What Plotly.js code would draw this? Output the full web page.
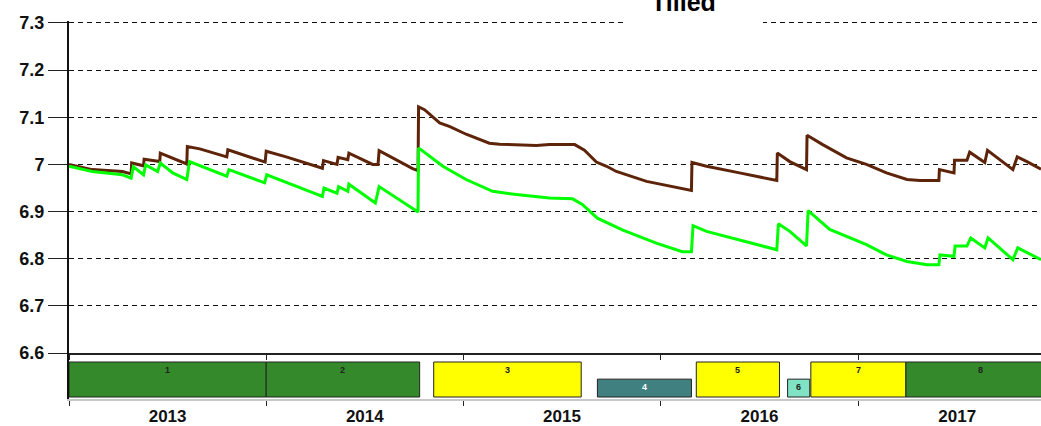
<!DOCTYPE html>
<html>
<head>
<meta charset="utf-8">
<script src="https://cdn.plot.ly/plotly-3.0.1.min.js"></script>
<style>html,body{margin:0;padding:0;background:#fff;}#chart{width:1041px;height:426px;}</style>
</head>
<body>
<div id="chart"></div>
<script>
// ---- Data ----
const brownDates = ['2013-01-01','2013-02-13','2013-04-10','2013-04-26','2013-04-27','2013-05-19','2013-05-20','2013-06-18','2013-06-19','2013-08-07','2013-08-08','2013-08-31','2013-10-20','2013-10-22','2013-12-30','2014-01-01','2014-02-07','2014-03-22','2014-04-15','2014-04-17','2014-05-12','2014-05-14','2014-06-01','2014-06-03','2014-07-17','2014-07-27','2014-07-29','2014-09-29','2014-10-09','2014-10-10','2014-10-21','2014-11-18','2014-12-07','2015-01-06','2015-02-18','2015-03-09','2015-05-16','2015-06-09','2015-07-26','2015-08-13','2015-09-04','2015-09-23','2015-10-11','2015-12-06','2016-02-18','2016-02-27','2016-02-28','2016-03-26','2016-05-26','2016-08-03','2016-08-04','2016-08-27','2016-09-27','2016-09-28','2016-10-27','2016-12-10','2017-01-16','2017-02-22','2017-04-01','2017-04-25','2017-05-30','2017-05-31','2017-06-27','2017-06-28','2017-07-21','2017-07-26','2017-08-23','2017-08-28','2017-10-14','2017-10-22','2017-11-09','2017-12-05'];
const brownValues = [7.000,6.989,6.985,6.980,7.003,6.997,7.011,7.006,7.024,7.001,7.038,7.033,7.016,7.031,7.005,7.028,7.016,7.000,6.992,7.008,7.000,7.015,7.010,7.024,7.000,7.000,7.029,6.991,6.987,7.122,7.116,7.088,7.080,7.064,7.045,7.043,7.040,7.042,7.042,7.030,7.005,6.996,6.985,6.964,6.946,6.945,7.004,6.996,6.982,6.966,7.024,7.006,6.989,7.062,7.042,7.014,7.000,6.982,6.968,6.966,6.966,6.989,6.982,7.009,7.009,7.026,7.004,7.030,6.989,7.016,7.006,6.990];

const greenDates = ['2013-01-01','2013-02-13','2013-04-10','2013-04-26','2013-04-30','2013-05-19','2013-05-23','2013-06-14','2013-06-19','2013-07-12','2013-08-07','2013-08-12','2013-10-20','2013-10-24','2013-12-29','2014-01-02','2014-03-22','2014-04-15','2014-04-18','2014-05-12','2014-05-15','2014-06-01','2014-06-03','2014-07-22','2014-07-29','2014-10-06','2014-10-09','2014-10-10','2014-11-24','2015-01-06','2015-02-24','2015-04-09','2015-06-09','2015-07-22','2015-08-09','2015-09-06','2015-10-22','2015-12-24','2016-02-10','2016-02-27','2016-03-01','2016-03-26','2016-05-26','2016-08-03','2016-08-06','2016-08-27','2016-09-27','2016-09-30','2016-11-09','2016-12-10','2017-01-16','2017-02-22','2017-04-01','2017-05-08','2017-05-30','2017-06-01','2017-06-27','2017-06-29','2017-07-21','2017-07-28','2017-08-23','2017-08-29','2017-10-14','2017-10-23','2017-12-05'];
const greenValues = [6.996,6.985,6.978,6.971,6.995,6.978,6.999,6.985,7.003,6.982,6.968,7.006,6.975,6.989,6.961,6.978,6.943,6.932,6.950,6.939,6.953,6.943,6.958,6.918,6.953,6.900,6.899,7.035,6.996,6.968,6.943,6.936,6.929,6.927,6.915,6.886,6.861,6.833,6.815,6.815,6.870,6.858,6.840,6.819,6.874,6.858,6.827,6.902,6.862,6.847,6.830,6.808,6.794,6.787,6.787,6.808,6.805,6.827,6.827,6.844,6.823,6.844,6.798,6.823,6.798];

const periodLabels = ['1','2','3','4','5','6','7','8'];
const periodStarts = ['2013-01-01','2014-01-01','2014-11-07','2015-09-06','2016-03-07','2016-08-23','2016-10-05','2017-03-30'];
const periodEnds   = ['2014-01-01','2014-10-12','2015-08-07','2016-02-27','2016-08-08','2016-10-03','2017-03-30','2017-12-31'];
const periodTypes  = ['A','A','B','C','B','D','B','A'];

const yTickVals = [6.6,6.7,6.8,6.9,7.0,7.1,7.2,7.3];

// ---- Styles ----
const typeColor = {A:'#348a2b', B:'#ffff00', C:'#408080', D:'#80e4c4'};
const typeHeight = {A:1, B:1, C:0.51, D:0.51};
const typeLabelColor = {A:'#222', B:'#222', C:'#ffffff', D:'#222'};
const FONT = 'Arial, "Liberation Sans", sans-serif';

const toMs = d => new Date(d + 'T00:00:00Z').getTime();
const durations = periodStarts.map((s,i) => toMs(periodEnds[i]) - toMs(s));
const mids = periodStarts.map((s,i) => new Date((toMs(s) + toMs(periodEnds[i]))/2).toISOString().slice(0,10));

const traces = [
  {type:'scatter', mode:'lines', x:brownDates, y:brownValues, xaxis:'x', yaxis:'y',
   line:{color:'#5e240a', width:3}, hoverinfo:'skip', showlegend:false},
  {type:'scatter', mode:'lines', x:greenDates, y:greenValues, xaxis:'x', yaxis:'y',
   line:{color:'#00ff00', width:3}, hoverinfo:'skip', showlegend:false},
  {type:'bar', orientation:'h', xaxis:'x2', yaxis:'y2',
   y:periodStarts.map(()=>0), base:periodStarts, x:durations,
   width:periodTypes.map(t=>typeHeight[t]), offset:periodTypes.map(()=>0),
   marker:{color:periodTypes.map(t=>typeColor[t]), line:{color:'#222', width:1}},
   hoverinfo:'skip', showlegend:false}
];

const annotations = periodLabels.map((lab,i)=>({
  xref:'x2', yref:'y2', x:mids[i], y:typeHeight[periodTypes[i]], yanchor:'top', yshift:-1,
  text:'<b>'+lab+'</b>', showarrow:false, font:{family:FONT, size:9, color:typeLabelColor[periodTypes[i]]}
}));
annotations.push({
  xref:'paper', yref:'paper', x:(685-69)/974, y:(399-20)/376, xanchor:'center', yanchor:'bottom',
  text:'<b>Tilled</b>', showarrow:false, font:{family:FONT, size:25, color:'#000'}
});

const layout = {
  width:1041, height:426,
  margin:{l:69, r:0, t:21, b:27, pad:0},
  paper_bgcolor:'#fff', plot_bgcolor:'#fff',
  font:{family:FONT, color:'#111'},
  showlegend:false,
  bargap:0,
  xaxis:{type:'date', range:['2013-01-01','2017-12-05'], anchor:'y', showgrid:false, zeroline:false,
         ticks:'outside', ticklen:5, tickcolor:'#222', tickwidth:1, dtick:'M12', tick0:'2013-01-01',
         showticklabels:false, showline:true, linecolor:'#222', linewidth:2, fixedrange:true},
  xaxis2:{type:'date', matches:'x', anchor:'y2', showgrid:false, zeroline:false,
          ticks:'outside', ticklen:5, tickcolor:'#222', tickwidth:1, dtick:'M12', tick0:'2013-01-01',
          ticklabelmode:'period', tickformat:'%Y', ticklabelstandoff:-4,
          tickfont:{family:FONT, size:17, color:'#111', weight:'bold'},
          showline:true, linecolor:'#c8c8c8', linewidth:2, fixedrange:true},
  // plot area: 21..399 px (378 px); main y from 21 to 353, band from 353 to 399
  yaxis:{domain:[46/378,1], range:[6.6,7.3042], tickvals:yTickVals, anchor:'x',
         showgrid:true, gridcolor:'#111', griddash:'5px,4px', gridwidth:1, zeroline:false,
         ticks:'outside', ticklen:19, tickcolor:'#222', tickwidth:1,
         tickfont:{family:FONT, size:18, color:'#111', weight:'bold'},
         showline:true, linecolor:'#111', linewidth:2, fixedrange:true},
  yaxis2:{domain:[0,46/378], range:[-2/35,44/35], anchor:'x2', showgrid:false, zeroline:false,
          showticklabels:false, ticks:'', showline:true, linecolor:'#111', linewidth:2, fixedrange:true},
  shapes:[{type:'rect', xref:'paper', yref:'paper', x0:(625-69)/972, x1:(763-69)/972,
           y0:(399-26)/378, y1:(399+5)/378, fillcolor:'#fff', line:{width:0}, layer:'above'}],
  annotations:annotations
};

Plotly.newPlot('chart', traces, layout, {staticPlot:true, displayModeBar:false});
</script>
</body>
</html>
